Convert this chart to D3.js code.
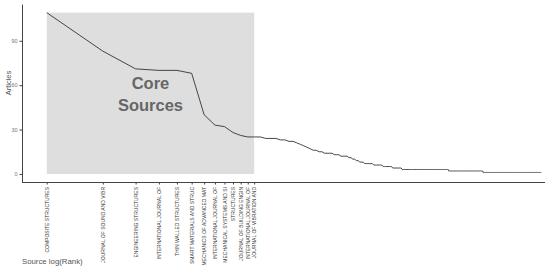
<!DOCTYPE html>
<html>
<head>
<script src="https://d3js.org/d3.v7.min.js"></script>
<style>
  body { margin: 0; background: #fff; font-family: "Liberation Sans", Arial, sans-serif; }
</style>
</head>
<body>
<svg id="chart" width="550" height="270"></svg>
<script>
// core sources (ranks 1-13) and their article counts
var coreSources = [
  'COMPOSITE STRUCTURES', 'JOURNAL OF SOUND AND VIBR', 'ENGINEERING STRUCTURES',
  'INTERNATIONAL JOURNAL OF ', 'THIN WALLED STRUCTURES', 'SMART MATERIALS AND STRUC',
  'MECHANICS OF ADVANCED MAT', 'INTERNATIONAL JOURNAL OF ', 'MECHANICAL SYSTEMS AND SI',
  'STRUCTURES', 'JOURNAL OF BUILDING ENGIN', 'INTERNATIONAL JOURNAL OF ',
  'JOURNAL OF VIBRATION AND '
];
var coreArticles = [109, 83, 71, 70, 70, 68, 40, 33, 32, 28, 26, 25, 25];

// remaining sources: article count and how many sources have it
var tailArticles = [25, 24, 23, 22, 21, 20, 19, 18, 17, 16, 15, 14, 13, 12, 11, 10, 9, 8, 7, 6, 5, 4, 3, 2, 1];
var tailSources  = [1, 3, 2, 2, 1, 1, 1, 1, 1, 2, 2, 4, 3, 4, 2, 2, 2, 3, 6, 7, 8, 9, 63, 76, 233];

var yTicks = [0, 30, 60, 90];

// one row per source, in rank order
var data = coreArticles.map(function(v, i) { return {rank: i + 1, articles: v}; });
tailArticles.forEach(function(v, i) {
  for (var k = 0; k < tailSources[i]; k++) {
    data.push({rank: data.length + 1, articles: v});
  }
});

var svg = d3.select('#chart');
var pLeft = 22, pRight = 566, pTop = 4.6, pBottom = 182;

// ggplot style 5% expansion on both axes
var span = Math.log(data.length);
var x = d3.scaleLinear()
  .domain([-0.05 * span, span * 1.05])
  .range([pLeft, pRight]);

var yMax = d3.max(data, function(d) { return d.articles; });
var y = d3.scaleLinear()
  .domain([-0.05 * yMax, yMax * 1.05])
  .range([pBottom, pTop]);

var coreEnd = Math.log(coreSources.length);

// core sources box
svg.append('rect')
  .attr('x', x(0))
  .attr('y', y(yMax))
  .attr('width', x(coreEnd) - x(0))
  .attr('height', y(0) - y(yMax))
  .attr('fill', '#dedede');

var cx = (x(0) + x(coreEnd)) / 2;
svg.append('text')
  .attr('x', cx)
  .attr('y', 89)
  .attr('text-anchor', 'middle')
  .attr('font-size', 16.5)
  .attr('font-weight', 'bold')
  .attr('fill', '#666')
  .text('Core');
svg.append('text')
  .attr('x', cx)
  .attr('y', 111)
  .attr('text-anchor', 'middle')
  .attr('font-size', 16.5)
  .attr('font-weight', 'bold')
  .attr('fill', '#666')
  .text('Sources');

// line
var line = d3.line()
  .x(function(d) { return x(Math.log(d.rank)); })
  .y(function(d) { return y(d.articles); });

svg.append('path')
  .datum(data)
  .attr('d', line)
  .attr('fill', 'none')
  .attr('stroke', '#333')
  .attr('stroke-width', 0.9);

// y axis
var yAxis = svg.append('g')
  .attr('transform', 'translate(' + pLeft + ',0)')
  .call(d3.axisLeft(y).tickValues(yTicks).tickSize(2.5).tickPadding(2));
yAxis.select('.domain').attr('stroke', '#444').attr('d', 'M0.5,' + pTop + 'V' + pBottom);
yAxis.selectAll('.tick line').attr('stroke', '#444');
yAxis.selectAll('.tick text').attr('font-size', 5.5).attr('fill', '#777');

// x axis with core source names
var xAxis = svg.append('g')
  .attr('transform', 'translate(0,' + pBottom + ')')
  .call(d3.axisBottom(x)
    .tickValues(coreSources.map(function(s, i) { return Math.log(i + 1); }))
    .tickFormat(function(d, i) { return coreSources[i]; })
    .tickSize(2.5).tickPadding(2));
xAxis.select('.domain').attr('stroke', '#444').attr('d', 'M' + pLeft + ',0.5H545');
xAxis.selectAll('.tick line').attr('stroke', '#444');
xAxis.selectAll('.tick text')
  .attr('font-size', 5)
  .attr('fill', '#333')
  .attr('text-anchor', 'end')
  .attr('transform', 'rotate(-90)')
  .attr('x', -5)
  .attr('y', 0)
  .attr('dy', '0.35em');

// axis titles
svg.append('text')
  .attr('transform', 'translate(11,83) rotate(-90)')
  .attr('text-anchor', 'middle')
  .attr('font-size', 7.5)
  .attr('fill', '#555')
  .text('Articles');

svg.append('text')
  .attr('x', 22)
  .attr('y', 264)
  .attr('font-size', 7.8)
  .attr('fill', '#555')
  .text('Source log(Rank)');
</script>
</body>
</html>
